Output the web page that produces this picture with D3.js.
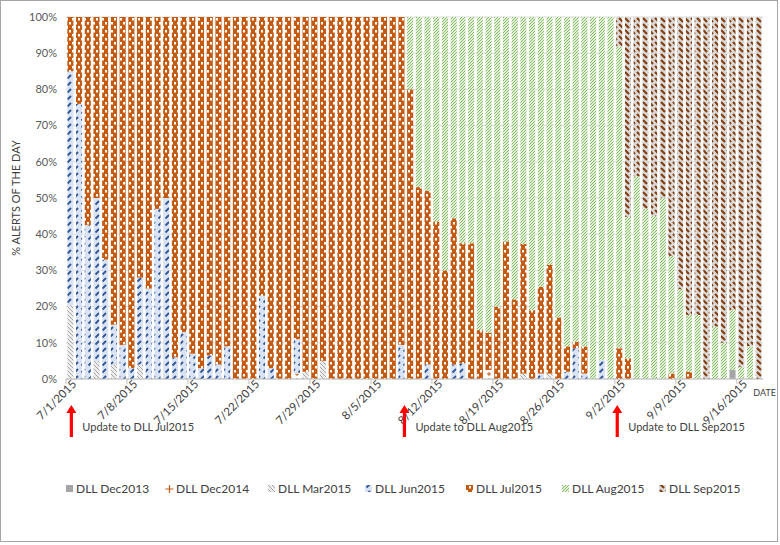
<!DOCTYPE html>
<html>
<head>
<meta charset="utf-8">
<script src="https://cdn.jsdelivr.net/npm/d3@7"></script>
<style>
  body { margin: 0; background: #fff; }
  svg text { font-family: Lato, "Open Sans", sans-serif; fill: #404040; }
</style>
</head>
<body>
<svg id="chart" width="780" height="545"></svg>
<script>
// Data: share of the day's alerts per DLL version, one value per day 7/1/2015 .. 9/18/2015
const startDay = new Date(2015, 6, 1);
const endDay = new Date(2015, 8, 19);
const days = d3.timeDay.range(startDay, endDay);

const seriesNames = ['DLL Dec2013', 'DLL Dec2014', 'DLL Mar2015', 'DLL Jun2015', 'DLL Jul2015', 'DLL Aug2015', 'DLL Sep2015'];

const dec2013 = [0,0,0,0,0,0,0,0,0,0, 0,0,0,0,0,0,0,0,0,0, 0,0,0,0,0,0,0,0,0,0, 0,0,0,0,0,0,0,0,0,0,
                 0,0,0,0,0,0,0,0,0,0, 0,0,0,0,0,0,0,0,0,0, 0,0,0,0,0,0,0,0,0,0, 0,0,0,0,0,0,2.5,0,0,0];
const dec2014 = [0,0,0,0,0,0,0,0,0,0, 0,0,0,0,0,0,0,0,0,0, 0,0,0,0,0,0,1.5,0,0,0, 0,0,0,0,0,0,0,0,0,0,
                 0,0,0,0,0,0,0,0,2.5,0, 0,0,0,0,0,0,0,0,0,0, 0,0,0,0,0,0,0,0,0,0, 0,0,0,0,0,0,0,0,0,0];
const mar2015 = [20.4,0,0,5,0,4,0,0,4,0, 0,0,0,0,0,0,0,0,0,0, 0,0,0,0,0,0,0,2,0,5, 0,0,0,0,0,0,0,0,0,0,
                 0,0,0,0,0,0,0,0,0,0, 0,0,1.5,0,0,1.5,0,0,0,0, 0,0,0,0,0,0,0,0,0,0, 0,0,0,0,0,0,0,0,0,0];
const jun2015 = [64.6,76,42.5,45,33,11,9.4,3,24,25, 47,50,6,13,7,3,6.5,4,9,0, 0,0,23,3,0,0,9.5,0,0,0, 0,0,0,0,0,0,0,0,9.4,0,
                 0,4,0,0,4,4.3,0,0,0,0, 0,0,0,0,1.5,0,0,2,8.5,1.5, 0,5.3,0,0,0,0,0,0,0,0, 0,0,0,0,0,0,0,0,0,0];
const jul2015 = [15,24,57.5,50,67,85,90.6,97,72,75, 53,50,94,87,93,97,93.5,96,91,100, 100,100,77,97,100,100,89,98,100,95,
                 100,100,100,100,100,100,100,100,90.6,80, 53,48,43.5,30,40.4,33.2,37.5,13.5,10.3,20, 38,22,35.8,19,24,30,17,7,1.8,7.5,
                 0,0,0,8.5,5.7,0,0,0,0,1.5, 0,2,0,0,0,0,0,0,0,0];
const aug2015 = [0,0,0,0,0,0,0,0,0,0, 0,0,0,0,0,0,0,0,0,0, 0,0,0,0,0,0,0,0,0,0, 0,0,0,0,0,0,0,0,0,20,
                 47,48,56.5,70,55.6,62.5,62.5,86.5,87.2,80, 62,78,62.7,81,74.5,68.5,83,91,89.7,91,
                 100,94.7,100,83.3,39.1,56,47,45,50,32.5, 24.8,15.7,17.7,0,14.5,10,16.5,3.4,9,0];
const sep2015 = [0,0,0,0,0,0,0,0,0,0, 0,0,0,0,0,0,0,0,0,0, 0,0,0,0,0,0,0,0,0,0, 0,0,0,0,0,0,0,0,0,0,
                 0,0,0,0,0,0,0,0,0,0, 0,0,0,0,0,0,0,0,0,0, 0,0,0,8.2,55.2,44,53,55,50,66,
                 75.2,82.3,82.3,100,85.5,90,81,96.6,91,100];

const seriesValues = [dec2013, dec2014, mar2015, jun2015, jul2015, aug2015, sep2015];
const yTicks = [0, 0.1, 0.2, 0.3, 0.4, 0.5, 0.6, 0.7, 0.8, 0.9, 1];
const tickDays = d3.timeDay.range(startDay, endDay, 7);
const updates = [
    { day: new Date(2015, 6, 1), label: 'Update to DLL Jul2015', dx: 1 },
    { day: new Date(2015, 7, 8), label: 'Update to DLL Aug2015', dx: 3 },
    { day: new Date(2015, 8, 2), label: 'Update to DLL Sep2015', dx: -2 }
];

const rows = days.map((d, i) => {
    const row = { day: d };
    seriesNames.forEach((s, k) => { row[s] = seriesValues[k][i]; });
    return row;
});

const svg = d3.select('#chart');
const margin = { left: 66, right: 17, top: 17, bottom: 166 };
const width = 780 - margin.left - margin.right;
const height = 545 - margin.top - margin.bottom;

// Patterns, one per series
const defs = svg.append('defs');
function pattern(id, w, h, bg, draw) {
    const p = defs.append('pattern').attr('id', id)
        .attr('patternUnits', 'userSpaceOnUse').attr('width', w).attr('height', h);
    p.append('rect').attr('width', w).attr('height', h).attr('fill', bg);
    draw(p);
}
pattern('p0', 4, 4, '#a5a5a5', p => {});
pattern('p1', 6, 6, '#ffffff', p => {
    p.append('path').attr('d', 'M3,1V5M1,3H5').attr('stroke', '#c55a11').attr('stroke-width', 1);
});
pattern('p2', 4, 4, '#ededed', p => {
    p.append('path').attr('d', 'M0,0L4,4M-1,3L1,5M3,-1L5,1').attr('stroke', '#9e9e9e').attr('stroke-width', 0.9);
});
pattern('p3', 7, 7, '#dae3f3', p => {
    p.append('path').attr('d', 'M1.5,5.5L5,2').attr('stroke', '#2f5597').attr('stroke-width', 1.8);
});
pattern('p4', 6, 8, '#c55a11', p => {
    p.append('rect').attr('x', 0).attr('y', 1).attr('width', 2).attr('height', 2.5).attr('fill', '#fff');
    p.append('rect').attr('x', 3).attr('y', 5).attr('width', 2).attr('height', 2.5).attr('fill', '#fff');
});
pattern('p5', 3, 3, '#e2f0d9', p => {
    p.append('path').attr('d', 'M0,3L3,0M-1,1L1,-1M2,4L4,2').attr('stroke', '#70ad47').attr('stroke-width', 0.8);
});
pattern('p6', 6, 6, '#d9d9d9', p => {
    p.append('path').attr('d', 'M1,1L5,5').attr('stroke', '#843c0c').attr('stroke-width', 2.2);
});
const fills = seriesNames.map((s, k) => `url(#p${k})`);

// Outer frame
svg.append('rect').attr('x', 0.5).attr('y', 0.5).attr('width', 777).attr('height', 541)
    .attr('fill', 'none').attr('stroke', '#a6a6a6');

const g = svg.append('g').attr('transform', `translate(${margin.left},${margin.top})`);

const x = d3.scaleBand().domain(days).range([0, width]).paddingInner(0.3).paddingOuter(0.15);
const y = d3.scaleLinear().domain([0, 1]).range([height, 0]);

// Gridlines
g.append('g').selectAll('line').data(yTicks).join('line')
    .attr('x1', 0).attr('x2', width)
    .attr('y1', d => y(d)).attr('y2', d => y(d))
    .attr('stroke', '#d9d9d9');

// Stacked 100% bars
const stack = d3.stack().keys(seriesNames).offset(d3.stackOffsetExpand);
const layers = stack(rows);
g.append('g').selectAll('g').data(layers).join('g')
    .attr('fill', (d, k) => fills[k])
    .selectAll('rect').data(d => d).join('rect')
    .attr('x', d => x(d.data.day))
    .attr('width', x.bandwidth())
    .attr('y', d => y(d[1]))
    .attr('height', d => y(d[0]) - y(d[1]));

// Y axis labels
g.append('g').selectAll('text').data(yTicks).join('text')
    .attr('x', -9).attr('y', d => y(d)).attr('dy', '0.35em')
    .attr('text-anchor', 'end').attr('font-size', 11).style('fill', '#595959')
    .text(d3.format('.0%'));

// Bottom axis line and weekly ticks
const step = x.step();
const x0 = d => x(d) - step * x.paddingInner() / 2;
g.append('line').attr('x1', 0).attr('x2', width).attr('y1', height).attr('y2', height)
    .attr('stroke', '#bfbfbf');
g.append('g').selectAll('line').data(tickDays).join('line')
    .attr('x1', d => x0(d)).attr('x2', d => x0(d))
    .attr('y1', height).attr('y2', height + 5)
    .attr('stroke', '#bfbfbf');

const fmt = d3.timeFormat('%-m/%-d/%Y');
g.append('g').selectAll('text').data(tickDays).join('text')
    .attr('transform', d => `translate(${x(d) + x.bandwidth() / 2 + 4},${height + 3}) rotate(-45)`)
    .attr('text-anchor', 'end').attr('dy', '0.35em').attr('font-size', 11.5).style('fill', '#404040')
    .text(fmt);

g.append('text').attr('x', width + 13).attr('y', height + 17)
    .attr('text-anchor', 'end').attr('font-size', 9).style('fill', '#404040').text('DATE');

// Y axis title
svg.append('text')
    .attr('transform', `translate(20,${margin.top + height / 2}) rotate(-90)`)
    .attr('text-anchor', 'middle').attr('font-size', 11).style('fill', '#404040')
    .text('% ALERTS OF THE DAY');

// Update arrows
const ua = g.append('g').selectAll('g').data(updates).join('g')
    .attr('transform', d => `translate(${x(d.day) + x.bandwidth() / 2 + d.dx},${height + 26})`);
ua.append('path')
    .attr('d', 'M0,0L5,8H1.6V32H-1.6V8H-5Z')
    .attr('fill', '#ff0000');
ua.append('text').attr('x', 11).attr('y', 26).attr('font-size', 11).style('fill', '#404040')
    .text(d => d.label);

// Legend
const legendX = [66, 166, 268, 365, 466, 562, 659];
const lg = svg.append('g').selectAll('g').data(seriesNames).join('g')
    .attr('transform', (d, k) => `translate(${legendX[k]},489)`);
lg.append('rect').attr('x', 0).attr('y', -4).attr('width', 7).attr('height', 7)
    .attr('fill', (d, k) => k === 1 ? 'none' : fills[k]);
lg.filter((d, k) => k === 1).append('path')
    .attr('d', 'M3.5,-4V4M-0.5,0H7.5').attr('stroke', '#c55a11').attr('stroke-width', 1.2);
lg.append('text').attr('x', 10).attr('dy', '0.35em').attr('font-size', 12).style('fill', '#404040')
    .text(d => d);
</script>
</body>
</html>
